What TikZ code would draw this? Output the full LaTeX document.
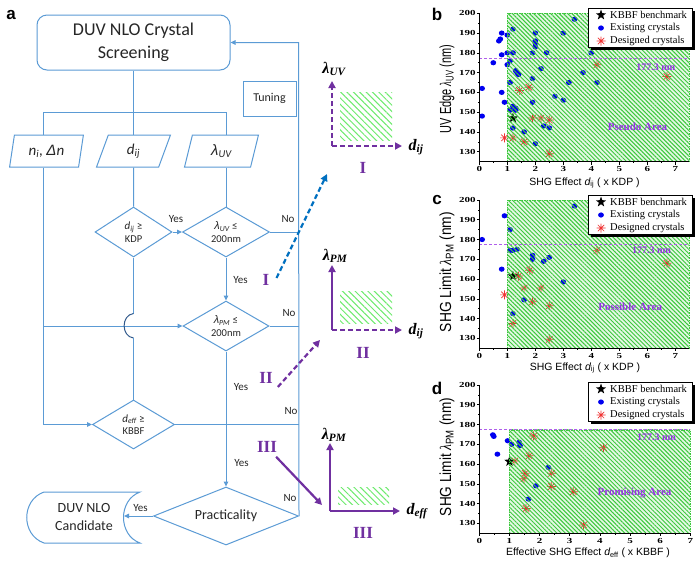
\documentclass[tikz,border=0pt]{standalone}
\usepackage{fontspec}
\setmainfont{Carlito}
\newfontfamily\tms{Liberation Serif}
\newfontfamily\arl{Liberation Sans}
\usetikzlibrary{shapes.geometric,arrows.meta,patterns.meta}
\newcommand\fsz[2]{\fontsize{#1}{#2}\selectfont}
\newcommand\lam{{\arl\itshape λ}}
\definecolor{fc}{RGB}{91,155,213}
\definecolor{hopc}{RGB}{50,90,140}
\definecolor{ftxt}{RGB}{38,38,38}
\definecolor{pur}{RGB}{112,48,160}
\definecolor{arrblue}{RGB}{0,112,192}
\definecolor{hatchc}{RGB}{60,200,60}
\definecolor{hatchbg}{RGB}{228,248,228}
\definecolor{hatchm}{RGB}{110,235,110}
\definecolor{plpur}{RGB}{175,95,235}
\definecolor{txpur}{RGB}{150,50,230}
\definecolor{ptblue}{RGB}{0,0,240}
\definecolor{ptred}{RGB}{240,50,50}
\tikzset{
  fl/.style={draw=fc, line width=1pt},
  fla/.style={fl, -{Triangle[length=5pt,width=4.5pt]}},
  hop/.style={draw=hopc, line width=1pt},
  box/.style={draw=fc, line width=1pt, text=ftxt, align=center, inner sep=0pt},
  para/.style={box, trapezium, trapezium left angle=78, trapezium right angle=102, trapezium stretches=true, minimum width=74pt, minimum height=32pt, font=\fsz{15}{18}\itshape},
  dia/.style={box, diamond, aspect=1.6, minimum height=50pt, font=\fsz{11}{12.5}},
  lab/.style={text=ftxt, font=\fsz{11}{13}, inner sep=0pt},
  roman/.style={text=pur, font=\tms\bfseries\fsz{17}{20}, inner sep=0pt},
  plab/.style={font=\tms\bfseries\itshape\fsz{16}{18}, inner sep=0pt},
  pax/.style={draw=pur, line width=2.2pt, -{Triangle[length=7pt,width=7pt]}},
  paxd/.style={pax, dash pattern=on 5pt off 3pt},
  mhatch/.style={pattern={Lines[angle=-45,distance=4.5pt,line width=1pt]}, pattern color=hatchm},
  phatch/.style={pattern={Lines[angle=-45,distance=3pt,line width=1pt]}, pattern color=hatchc},
  hborder/.style={draw=hatchc, line width=0.6pt, dash pattern=on 1.5pt off 1pt},
  axl/.style={draw=black, line width=0.6pt},
  pline/.style={draw=plpur, line width=0.8pt, dash pattern=on 3pt off 2pt},
  xtk/.style={below=5pt, inner sep=0pt, font=\tms\bfseries\fsz{11}{11}},
  ytk/.style={left=3.5pt, inner sep=0pt, font=\tms\bfseries\fsz{11}{11}},
  xlab/.style={font=\arl\fsz{10.5}{12}, inner sep=0pt},
  ylab/.style={font=\arl\fsz{16}{16}, rotate=90, inner sep=0pt},
  arealab/.style={text=txpur, font=\tms\bfseries\fsz{11}{12}, inner sep=0pt},
  nmlab/.style={text=txpur, font=\tms\bfseries\fsz{10}{12}, inner sep=0pt},
  legtxt/.style={anchor=west, font=\tms\fsz{10.5}{12}, inner sep=0pt},
  panel/.style={font=\arl\bfseries\fsz{17}{17}, inner sep=0pt},
  dot/.pic={\fill[ptblue] (0pt,0pt) ellipse (2.9pt and 2.6pt);},
  ast/.pic={\draw[ptred, line width=0.7pt] (-4.5pt,0pt) -- (4.5pt,0pt) (0pt,-4.5pt) -- (0pt,4.5pt) (-3.2pt,-3.2pt) -- (3.2pt,3.2pt) (-3.2pt,3.2pt) -- (3.2pt,-3.2pt);},
  kstar/.pic={\fill[black] (90:5.5pt) -- (126:2.2pt) -- (162:5.5pt) -- (198:2.2pt) -- (234:5.5pt) -- (270:2.2pt) -- (306:5.5pt) -- (342:2.2pt) -- (18:5.5pt) -- (54:2.2pt) -- cycle;},
}
\newcommand\plotaxes[2]{%
  \draw[axl] (0,200) -- (0,125) -- (#2,125);
  \foreach \i in {0,...,7} {\draw[axl] (\i,125) -- ++(0pt,-3pt); \node[xtk] (#1x\i) at (\i,125) {\scalebox{1}[0.7]{\i}};}
  \foreach \i in {0.5,1.5,...,6.5} {\draw[axl] (\i,125) -- ++(0pt,-1.6pt);}
  \foreach \v in {130,140,...,200} {\draw[axl] (0,\v) -- ++(-2.5pt,0pt); \node[ytk] (#1y\v) at (0,\v) {\scalebox{1}[0.7]{\v}};}
  \foreach \v in {135,145,...,195} {\draw[axl] (0,\v) -- ++(-1.5pt,0pt);}
}
\newcommand\plotlegend[2]{%
  \fill[black] (590.5,#2+2.5) rectangle (694.5,#2+41.5);
  \filldraw[fill=white, draw=black, line width=0.6pt] (588,#2) rectangle (692,#2+39);
  \pic at (601,#2+7) {kstar}; \node[legtxt] (#1l1) at (610,#2+7) {KBBF benchmark};
  \pic at (601,#2+20) {dot}; \node[legtxt] (#1l2) at (610,#2+20) {Existing crystals};
  \pic at (601,#2+33) {ast}; \node[legtxt] (#1l3) at (610,#2+33) {Designed crystals};
}
\begin{document}
\begin{tikzpicture}[x=1pt,y=-1pt]
\useasboundingbox (0,0) rectangle (700,566);
\fill[white] (0,0) rectangle (700,566);

% ---------------- flowchart ----------------
\node[panel] (pa) at (11,15) {a};
\node[box, rounded corners=10pt, minimum width=193pt, minimum height=55pt, font=\fsz{18}{23}] (top) at (133.5,42.5) {DUV NLO Crystal\\Screening};
\node[box, minimum width=53pt, minimum height=35pt, font=\fsz{12}{14}] (tun) at (269.5,98.5) {Tuning};
\node[para] (p1) at (46.5,151) {n\textsubscript{i}, {\arl\itshape Δ}n};
\node[para] (p2) at (133.5,151) {d\textsubscript{ij}};
\node[para] (p3) at (221.5,151) {\lam\textsubscript{UV}};
\node[dia, minimum width=77pt] (d1) at (133.5,232) {{\itshape d\textsubscript{ij}} ≥\\{\fsz{10.5}{12}KDP}};
\node[dia, minimum width=87pt] (d2) at (226,232) {{\itshape \lam\textsubscript{UV}} ≤\\{\fsz{10.5}{12}200nm}};
\node[dia, minimum width=86pt] (d3) at (226,326) {{\itshape \lam\textsubscript{PM}} ≤\\{\fsz{10.5}{12}200nm}};
\node[dia, minimum width=82pt, minimum height=49pt] (d4) at (133.5,424.5) {{\itshape d\textsubscript{eff}} ≥\\{\fsz{10.5}{12}KBBF}};
\node[box, diamond, aspect=2.4, minimum width=145pt, minimum height=58pt, font=\fsz{14}{16}] (prac) at (226,516) {Practicality};
\node[text=ftxt, align=center, inner sep=0pt, font=\fsz{14}{18}] (cand) at (84,517) {DUV NLO\\Candidate};
\draw[fl] (44,492) -- (140,492) .. controls (118,500) and (118,535) .. (140,543) -- (44,543) .. controls (21,535) and (21,500) .. (44,492);
\coordinate (candE) at (124,516);

\coordinate (laneL) at (43,112);
\coordinate (rgt) at (298.5,42.5);
\coordinate (hopA) at (133.5,313.5);
\coordinate (hopB) at (133.5,338);

\draw[fl] (top.south) -- (top.south |- laneL);
\draw[fl] (p1.north -| laneL) -- (laneL) -- (laneL -| d2.north) -- (p3.north -| d2.north);
\draw[fl] (p2.north) -- (p2.north |- laneL);
\draw[fl] (p2.south) -- (d1.north);
\draw[fl] (p3.south -| d2.north) -- (d2.north);
\draw[fla] (d1.east) -- (d2.west);
\draw[fl] (d2.east) -- (d2.east -| rgt);
\draw[fla] (d2.south) -- (d3.north);
\draw[fl] (d3.east) -- (d3.east -| rgt);
\draw[fla] (p1.south -| laneL) -- (laneL |- d4.west) -- (d4.west);
\draw[fla] (laneL |- d3.west) -- (d3.west);
\draw[fl] (d1.south) -- (hopA);
\draw[hop] (hopA) .. controls (121,315) and (121,336.5) .. (hopB);
\draw[fl] (hopB) -- (d4.north);
\draw[fla] (d3.south) -- (prac.north);
\draw[fl] (d4.east) -- (d4.east -| rgt);
\draw[fla] (prac.west) -- (candE);
\draw[fla] (prac.east) -- (rgt) -- (top.east);

\node[lab] (y1) at (176,219) {Yes};
\node[lab] (n1) at (288,219) {No};
\node[lab] (y2) at (240.5,280) {Yes};
\node[lab] (n2) at (289,313) {No};
\node[lab] (y3) at (241,387) {Yes};
\node[lab] (n3) at (291,411) {No};
\node[lab] (y4) at (241.5,463) {Yes};
\node[lab] (n4) at (290,498) {No};
\node[lab] (y5) at (140.5,508) {Yes};

\node[roman] (r1) at (266,280) {I};
\node[roman] (r2) at (266,378) {II};
\node[roman] (r3) at (267,447) {III};

% ---------------- middle panels ----------------
\coordinate (t1) at (327,174);
\coordinate (t2) at (320,340);
\coordinate (t3) at (322,505);
\draw[draw=arrblue, line width=2.2pt, dash pattern=on 5pt off 3pt, -{Triangle[length=7pt,width=7pt]}] ([shift={(7pt,2pt)}]r1.east) -- (t1);
\draw[draw=pur, line width=2.2pt, dash pattern=on 5pt off 3pt, -{Triangle[length=7pt,width=7pt]}] ([shift={(5pt,-9pt)}]r2.east) -- (t2);
\draw[draw=pur, line width=2.2pt, -{Triangle[length=7pt,width=7pt]}] ([shift={(-1pt,-4pt)}]r3.south east) -- (t3);

% panel I
\path[mhatch] (340,92) rectangle (392,140);
\coordinate (o1) at (332,146);
\coordinate (o1y) at (332,81);
\coordinate (o1x) at (402,146);
\draw[paxd] (o1) -- (o1y);
\draw[paxd] (o1) -- (o1x);
\node[plab] (l1y) at (334,69) {λ\textsubscript{UV}};
\node[plab] (l1x) at (416,147) {d\textsubscript{ij}};
\node[roman] (m1) at (363,168) {I};

% panel II
\path[mhatch] (340,291) rectangle (392,323);
\coordinate (o2) at (332,330);
\coordinate (o2y) at (332,265);
\coordinate (o2x) at (402,330);
\draw[pax] (o2) -- (o2y);
\draw[paxd] (o2) -- (o2x);
\node[plab] (l2y) at (335,256) {λ\textsubscript{PM}};
\node[plab] (l2x) at (416,331) {d\textsubscript{ij}};
\node[roman] (m2) at (363,353) {II};

% panel III
\path[mhatch] (338,487) rectangle (389,504);
\coordinate (o3) at (330,511);
\coordinate (o3y) at (330,443);
\coordinate (o3x) at (400,511);
\draw[pax] (o3) -- (o3y);
\draw[pax] (o3) -- (o3x);
\node[plab] (l3y) at (334,435) {λ\textsubscript{PM}};
\node[plab] (l3x) at (417,511) {d\textsubscript{eff}};
\node[roman] (m3) at (363,533) {III};

% ---------------- plot b ----------------
\node[panel] (pb) at (437,14) {b};
\begin{scope}[shift={(479.3pt,-408.7pt)}, x=28pt, y=1.977pt]
  \fill[hatchbg] (1,125) rectangle (7.5,200);
  \foreach \a/\b in {0.1/162, 0.1/148, 0.5/175, 0.7/186, 0.75/187, 0.8/190, 0.8/179, 0.8/160, 0.9/155, 1.0/189, 1.0/180, 1.0/174, 1.1/176, 1.1/165, 1.1/151, 1.2/192, 1.2/180, 1.2/153, 1.2/142, 1.3/152, 1.3/151, 1.3/171, 1.35/170, 1.4/169, 1.6/140, 1.9/180, 1.9/167, 1.9/155, 2.0/190, 2.0/186, 2.0/185, 2.0/183, 2.0/134, 2.2/172, 2.4/180, 2.3/143, 2.5/142, 2.7/158, 3.0/156, 3.0/190, 3.2/165, 3.4/197, 3.7/170, 4.0/180, 4.2/165} {\pic at (\a,\b) {dot};}
  \foreach \a/\b in {0.9/137, 1.2/137, 1.43/161, 1.6/135, 1.77/162.6, 1.9/147, 2.2/147, 2.5/146, 2.5/129, 4.2/174, 6.7/168} {\pic at (\a,\b) {ast};}
  \pic at (1.2,147) {kstar};
  \path[phatch] (1,125) rectangle (7.5,200);
  \draw[hborder] (1,125) rectangle (7.5,200);
  \draw[pline] (0,177.3) -- (7.5,177.3);
  \plotaxes{b}{7.5}
  \node[nmlab] (bnm) at (6.3,172.8) {177.3 nm};
  \node[arealab] (barea) at (5.65,142.6) {Pseudo Area};
\end{scope}
\node[ylab] (bylab) at (447,89) {\resizebox{88pt}{\height}{UV Edge {\tms\itshape λ}\textsubscript{UV} (nm)}};
\node[xlab] (bxlab) at (584.5,183) {SHG Effect {\itshape d}\textsubscript{ij} ( x KDP )};
\plotlegend{b}{8}

% ---------------- plot c ----------------
\node[panel] (pc) at (437,200) {c};
\begin{scope}[shift={(479.3pt,-595.2pt)}, x=28pt, y=1.976pt]
  \fill[hatchbg] (1,125) rectangle (7.5,200);
  \foreach \a/\b in {0.1/180, 0.8/165, 0.9/192, 1.1/185, 1.1/174.5, 1.2/174.5, 1.35/175, 1.9/172, 1.9/170, 2.3/169, 2.5/171, 1.6/149.5, 1.2/142.5, 3.0/158.5, 3.4/197} {\pic at (\a,\b) {dot};}
  \foreach \a/\b in {0.9/152, 1.2/137.5, 1.4/161.5, 1.6/155.5, 1.8/164.5, 1.9/148.5, 2.2/155.5, 2.5/146.5, 2.5/129.5, 4.2/174.5, 6.7/168} {\pic at (\a,\b) {ast};}
  \pic at (1.2,161.5) {kstar};
  \path[phatch] (1,125) rectangle (7.5,200);
  \draw[hborder] (1,125) rectangle (7.5,200);
  \draw[pline] (0,177.3) -- (7.5,177.3);
  \plotaxes{c}{7.5}
  \node[nmlab] (cnm) at (6.15,174.7) {177.3 nm};
  \node[arealab] (carea) at (5.39,145.8) {Possible Area};
\end{scope}
\node[ylab] (cylab) at (447,272) {\resizebox{120pt}{\height}{SHG Limit {\tms\itshape λ}\textsubscript{PM} (nm)}};
\node[xlab] (cxlab) at (585,368) {SHG Effect {\itshape d}\textsubscript{ij} ( x KDP )};
\plotlegend{c}{195}

% ---------------- plot d ----------------
\node[panel] (pd) at (437,388) {d};
\begin{scope}[shift={(479.3pt,-780.2pt)}, x=30.14pt, y=1.976pt]
  \fill[hatchbg] (1,125) rectangle (7,177.3);
  \foreach \a/\b in {0.45/174.8, 0.48/174, 0.6/165, 0.94/171.8, 1.07/170, 1.32/171, 1.35/169.3, 1.88/149, 1.63/142.3, 2.29/158.3} {\pic at (\a,\b) {dot};}
  \foreach \a/\b in {1.18/161.5, 1.8/174.2, 1.65/164.2, 1.52/155.3, 1.48/152.6, 1.55/137.5, 2.4/155.3, 2.39/148.6, 3.12/146, 3.46/129.2, 4.12/168.3} {\pic at (\a,\b) {ast};}
  \pic at (1.0,161.3) {kstar};
  \path[phatch] (1,125) rectangle (7,177.3);
  \draw[hborder] (1,125) rectangle (7,177.3);
  \draw[pline] (0,177.3) -- (7,177.3);
  \plotaxes{d}{7}
  \node[nmlab] (dnm) at (5.88,173.7) {177.3 nm};
  \node[arealab] (darea) at (5.15,145.3) {Promising Area};
\end{scope}
\node[ylab] (dylab) at (447,457) {\resizebox{118pt}{\height}{SHG Limit {\tms\itshape λ}\textsubscript{PM} (nm)}};
\node[xlab] (dxlab) at (588,553) {Effective SHG Effect {\itshape d}\textsubscript{eff} ( x KBBF )};
\plotlegend{d}{382}
\end{tikzpicture}
\end{document}
